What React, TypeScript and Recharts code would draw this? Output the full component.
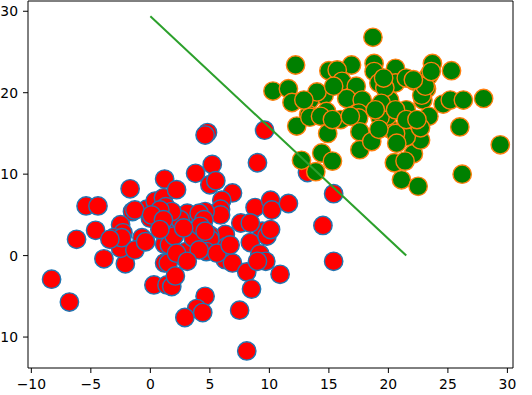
import React from "react";
import {
	ReferenceLine,
	Scatter,
	ScatterChart,
	XAxis,
	YAxis,
} from "recharts";

// class 0 (red)
const redPoints: [number, number][] = [
	[-1.7, 8.2], [-5.4, 6.1], [-4.4, 6.1], [1.2, 9.4], [-1.5, 5.4], [-0.3, 5.7],
	[0.4, 6.7], [1.1, 7.1], [0.0, 4.6], [-4.6, 3.1], [-6.2, 2.0], [-2.5, 3.8],
	[-2.3, 2.8], [-3.1, 2.2], [-0.7, 2.2], [1.0, 3.8], [-3.9, -0.4], [-2.1, -1.0],
	[-8.3, -2.9], [-6.8, -5.7], [0.3, -3.6], [1.4, -3.6], [1.2, -0.9], [-2.5, 0.9],
	[-2.4, 2.2], [-1.3, 0.7], [-0.4, 1.7], [-3.4, 2.0], [1.2, 1.4], [4.8, 15.1],
	[4.6, 14.8], [9.6, 15.4], [9.0, 11.4], [5.2, 11.2], [3.8, 10.1], [5.0, 8.7],
	[5.5, 9.2], [6.9, 7.7], [6.0, 6.8], [5.9, 5.7], [5.9, 5.0], [2.2, 8.1],
	[3.1, 5.2], [4.6, 5.4], [4.1, 5.2], [2.0, 3.4], [7.6, 4.0], [8.8, 5.9],
	[10.1, 6.8], [10.2, 5.6], [11.6, 6.4], [9.4, 3.0], [8.4, 4.0], [6.3, 2.6],
	[5.0, 2.5], [0.8, 4.8], [1.3, 6.0], [2.5, 4.4], [4.5, 4.4], [1.6, 1.3],
	[3.0, 0.5], [1.5, -0.9], [1.8, -3.8], [2.1, -2.5], [5.0, 2.0], [4.7, 0.5],
	[6.4, 1.1], [6.3, -0.5], [6.9, -0.9], [8.1, -2.0], [8.4, 1.6], [9.2, 0.2],
	[9.7, -0.7], [10.9, -2.3], [8.5, -4.1], [4.6, -5.0], [3.9, -6.5], [4.4, -7.0],
	[2.9, -7.6], [7.5, -6.7], [8.1, -11.7], [2.0, 2.4], [3.6, 2.2], [9.8, 2.4],
	[15.4, 7.6], [13.2, 10.2], [14.5, 3.7], [15.4, -0.7], [-1.3, 5.6], [1.8, 5.4],
	[0.8, 5.6], [0.1, 5.0], [1.1, 4.4], [0.8, 3.2], [2.2, 0.3], [4.2, 3.6],
	[4.6, 3.0], [2.8, 3.4], [4.1, 0.7], [5.6, 0.3], [6.7, 1.3], [10.1, 3.2],
	[9.0, -0.7], [3.1, -0.7],
];

// class 1 (green)
const greenPoints: [number, number][] = [
	[18.7, 26.8], [12.2, 23.4], [16.9, 23.4], [18.8, 23.6], [18.8, 22.6], [15.0, 22.7],
	[15.7, 22.8], [10.3, 20.2], [11.6, 20.5], [11.9, 18.8], [16.1, 21.4], [17.3, 20.8],
	[14.6, 19.7], [13.4, 19.1], [14.0, 20.1], [16.5, 19.3], [17.8, 19.1], [13.3, 17.3],
	[14.8, 17.7], [16.0, 16.7], [17.5, 17.5], [19.2, 21.2], [19.3, 17.7], [23.7, 23.6],
	[25.3, 22.7], [20.6, 23.0], [23.4, 22.1], [20.6, 21.2], [21.5, 21.8], [22.2, 21.4],
	[23.2, 20.5], [20.1, 19.1], [21.5, 17.9], [22.9, 19.1], [24.6, 18.6], [25.2, 19.1],
	[26.3, 19.1], [28.0, 19.3], [23.4, 17.1], [26.0, 15.8], [19.7, 20.6], [29.4, 13.6],
	[26.2, 10.0], [22.1, 12.5], [20.5, 11.4], [21.1, 9.3], [22.5, 8.5], [21.8, 16.1],
	[20.1, 15.6], [22.7, 14.2], [21.5, 14.6], [21.4, 11.6], [19.9, 17.1], [12.3, 15.9],
	[13.4, 17.0], [14.9, 15.0], [17.5, 16.9], [17.6, 15.2], [17.6, 13.0], [18.6, 14.0],
	[19.3, 17.0], [14.4, 12.6], [12.7, 11.7], [15.3, 11.6], [13.9, 10.3], [22.7, 15.7],
	[20.6, 15.0], [20.7, 13.8], [22.8, 19.7], [19.4, 18.7], [18.9, 17.9], [20.6, 17.9],
	[12.9, 19.1], [15.4, 20.8], [14.3, 17.1], [15.3, 16.7], [16.8, 17.1], [19.2, 15.5],
	[21.5, 16.7], [22.4, 16.7], [23.1, 20.8], [23.6, 22.6], [19.6, 21.8], [22.1, 21.6],
];

// decision boundary end points
const boundaryX = [0, 21.5];
const boundaryY = [29.4, 0];

const xTicks = [-10, -5, 0, 5, 10, 15, 20, 25, 30];
const yTicks = [-10, 0, 10, 20, 30];

const X_DOMAIN: [number, number] = [-10.28, 30.47];
const Y_DOMAIN: [number, number] = [-13.8, 31.26];

const redData = redPoints.map(([x, y]) => ({ x, y }));
const greenData = greenPoints.map(([x, y]) => ({ x, y }));
const lineData = boundaryX.map((x, i) => ({ x, y: boundaryY[i] }));

const fmt = (v: number) => (v < 0 ? `\u2212${-v}` : `${v}`);
const tickStyle = { fill: "#000", fontSize: 13.9, fontFamily: "DejaVu Sans" };

const dot =
	(fill: string, stroke: string) =>
	// biome-ignore lint/suspicious/noExplicitAny: shape props
	(props: any) => (
		<circle
			cx={props.cx}
			cy={props.cy}
			r={9.2}
			fill={fill}
			stroke={stroke}
			strokeWidth={1.4}
		/>
	);

export default function App() {
	return (
		<div style={{ position: "absolute", left: 0, top: 0 }}>
			<ScatterChart
				width={532}
				height={395}
				margin={{ top: 1, right: 19, bottom: 0, left: 0 }}
			>
				<XAxis
					type="number"
					dataKey="x"
					domain={X_DOMAIN}
					ticks={xTicks}
					allowDataOverflow
					height={27}
					tickSize={5}
					tickMargin={6}
					stroke="#000"
					tick={tickStyle}
					tickFormatter={fmt}
					interval={0}
				/>
				<YAxis
					type="number"
					dataKey="y"
					domain={Y_DOMAIN}
					ticks={yTicks}
					allowDataOverflow
					width={28}
					tickSize={5}
					tickMargin={5}
					stroke="#000"
					tick={tickStyle}
					tickFormatter={fmt}
					interval={0}
				/>
				<ReferenceLine y={Y_DOMAIN[1]} stroke="#000" ifOverflow="visible" />
				<ReferenceLine x={X_DOMAIN[1]} stroke="#000" ifOverflow="visible" />
				<Scatter
					data={redData}
					shape={dot("#ff0000", "#1f77b4")}
					isAnimationActive={false}
				/>
				<Scatter
					data={greenData}
					shape={dot("#008000", "#ff7f0e")}
					isAnimationActive={false}
				/>
				<Scatter
					data={lineData}
					line={{ stroke: "#2ca02c", strokeWidth: 2 }}
					lineType="joint"
					shape={() => <g />}
					isAnimationActive={false}
				/>
			</ScatterChart>
		</div>
	);
}
